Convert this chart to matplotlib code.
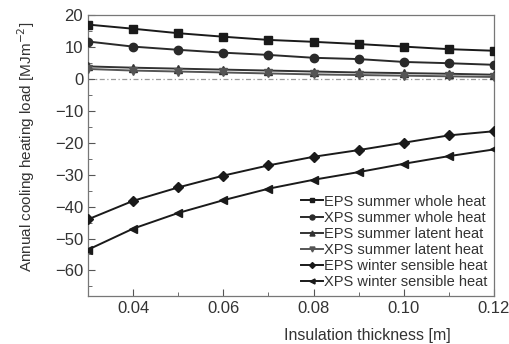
import matplotlib
matplotlib.use("Agg")
import matplotlib.pyplot as plt
from matplotlib.ticker import MultipleLocator

plt.rcParams['font.family'] = ['Liberation Sans', 'DejaVu Sans']

thickness = [0.03, 0.04, 0.05, 0.06, 0.07, 0.08, 0.09, 0.10, 0.11, 0.12]
eps_summer_whole = [17.0, 15.7, 14.3, 13.2, 12.2, 11.6, 10.9, 10.1, 9.3, 8.8]
xps_summer_whole = [11.7, 10.1, 9.1, 8.2, 7.5, 6.6, 6.2, 5.3, 4.9, 4.4]
eps_summer_latent = [3.9, 3.5, 3.2, 2.9, 2.6, 2.3, 2.0, 1.8, 1.6, 1.3]
xps_summer_latent = [3.1, 2.6, 2.3, 2.0, 1.7, 1.4, 1.2, 1.0, 0.8, 0.6]
eps_winter_sensible = [-44.0, -38.2, -34.0, -30.3, -27.1, -24.4, -22.3, -20.0, -17.7, -16.4]
xps_winter_sensible = [-53.5, -46.9, -42.0, -38.0, -34.4, -31.6, -29.2, -26.6, -24.2, -22.1]

labels = ["EPS summer whole heat", "XPS summer whole heat", "EPS summer latent heat",
          "XPS summer latent heat", "EPS winter sensible heat", "XPS winter sensible heat"]

fig = plt.figure(figsize=(5.10, 3.44), dpi=100)
ax = fig.add_axes([88/510, 1-296/344, (494-88)/510, (296-15)/344])

ax.axhline(0, color='#999999', lw=0.9, ls=(0, (4, 2, 1, 2)), zorder=1)

series = [
    (eps_summer_whole, 's', '#1a1a1a'),
    (xps_summer_whole, 'o', '#2a2a2a'),
    (eps_summer_latent, '^', '#333333'),
    (xps_summer_latent, 'v', '#555555'),
    (eps_winter_sensible, 'D', '#1a1a1a'),
    (xps_winter_sensible, '<', '#1a1a1a'),
]
for (vals, m, c), lab in zip(series, labels):
    ms = 6 if m != 'D' else 5
    ax.plot(thickness, vals, color=c, lw=1.4, marker=m, ms=ms, mfc=c, mec=c, label=lab, zorder=3)

ax.set_xlim(0.03, 0.12)
ax.set_ylim(-68, 20)
ax.xaxis.set_minor_locator(MultipleLocator(0.01))
ax.yaxis.set_minor_locator(MultipleLocator(5))
ax.set_xticks([0.04, 0.06, 0.08, 0.10, 0.12])
ax.set_xticklabels(["0.04", "0.06", "0.08", "0.10", "0.12"])
ax.set_yticks([20, 10, 0, -10, -20, -30, -40, -50, -60])
ax.set_yticklabels(["20", "10", "0", "\u221210", "\u221220", "\u221230", "\u221240", "\u221250", "\u221260"])
ax.tick_params(which='both', direction='in', colors='#555555', labelcolor='#333333', labelsize=12)
ax.tick_params(which='major', length=5)
ax.tick_params(which='minor', length=3)
for s in ax.spines.values():
    s.set_color('#777777')
    s.set_linewidth(0.9)

ax.set_xlabel("Insulation thickness [m]", fontsize=11.5, color='#333333')
ax.xaxis.set_label_coords(0.687, -0.115)
ax.set_ylabel("Annual cooling heating load [MJm$^{-2}$]", fontsize=11, color='#333333')
ax.yaxis.set_label_coords(-0.125, 0.53)

leg = ax.legend(loc='lower right', frameon=False, fontsize=10.5, handlelength=1.5,
                handletextpad=0.1, labelspacing=0.15, borderaxespad=0.05, markerscale=0.6)
for t in leg.get_texts():
    t.set_color('#333333')

fig.savefig("out.png", dpi=100)
